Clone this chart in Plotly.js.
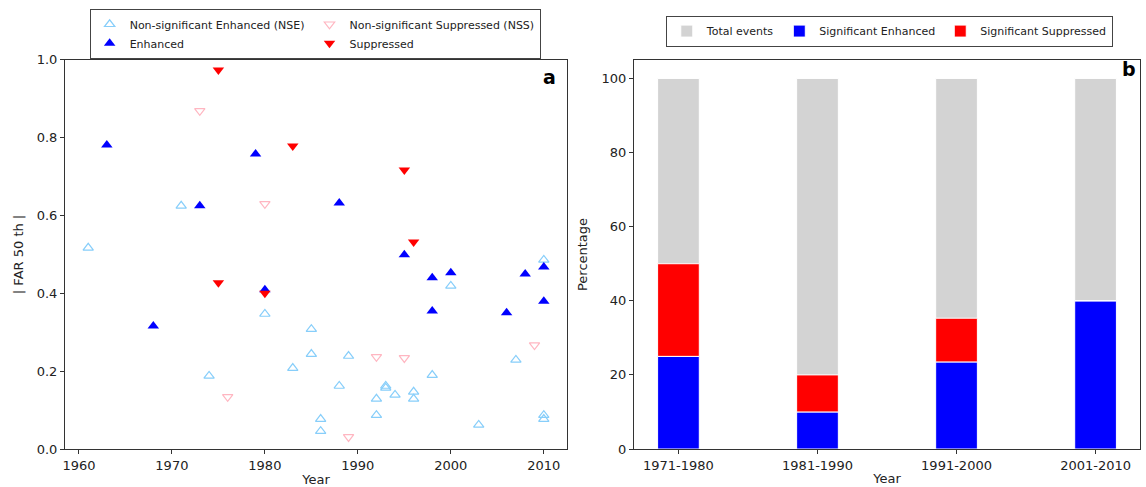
<!DOCTYPE html>
<html><head><meta charset="utf-8">
<script src="https://cdn.plot.ly/plotly-3.0.1.min.js"></script>
<style>html,body{margin:0;padding:0;background:#fff}#c{width:1146px;height:487px}</style>
</head><body><div id="c"></div>
<script>
// Panel a data
const nseYear = [1961,1971,1974,1980,1983,1985,1985,1986,1986,1988,1989,1992,1992,1993,1993,1994,1996,1996,1998,2000,2003,2007,2010,2010,2010];
const nseFar  = [0.517,0.625,0.188,0.347,0.208,0.308,0.244,0.077,0.046,0.162,0.239,0.129,0.087,0.162,0.157,0.139,0.147,0.129,0.19,0.419,0.062,0.229,0.486,0.087,0.077];
const nssYear = [1973,1976,1980,1989,1992,1995,2009];
const nssFar  = [0.869,0.134,0.63,0.031,0.237,0.234,0.267];
const enhYear = [1963,1968,1973,1979,1980,1988,1995,1998,1998,2000,2006,2008,2010,2010];
const enhFar  = [0.781,0.316,0.625,0.758,0.409,0.632,0.499,0.44,0.355,0.453,0.35,0.45,0.468,0.38];
const supYear = [1975,1975,1980,1983,1995,1996];
const supFar  = [0.974,0.427,0.40,0.779,0.717,0.532];
// Panel b data
const decades = ['1971-1980','1981-1990','1991-2000','2001-2010'];
const totalPct = [100,100,100,100];
const enhancedPct = [25,10,23.5,40];
const suppressedPct = [25,10,11.8,0];

const font = {family:'DejaVu Sans', size:13, color:'#222'};
const legFont = {family:'DejaVu Sans', size:11, color:'#222'};
const traces = [
 {x:nseYear,y:nseFar,type:'scatter',mode:'markers',name:'Non-significant Enhanced (NSE)',legend:'legend',legendgroup:'g1',
  marker:{symbol:'triangle-up-open',size:9,color:'#87CEFA',line:{width:1.2,color:'#87CEFA'}},xaxis:'x',yaxis:'y'},
 {x:enhYear,y:enhFar,type:'scatter',mode:'markers',name:'Enhanced',legend:'legend',legendgroup:'g1',
  marker:{symbol:'triangle-up',size:10,color:'blue'},xaxis:'x',yaxis:'y'},
 {x:nssYear,y:nssFar,type:'scatter',mode:'markers',name:'Non-significant Suppressed (NSS)',legend:'legend',legendgroup:'g2',
  marker:{symbol:'triangle-down-open',size:9,color:'#FFB6C1',line:{width:1.2,color:'#FFB6C1'}},xaxis:'x',yaxis:'y'},
 {x:supYear,y:supFar,type:'scatter',mode:'markers',name:'Suppressed',legend:'legend',legendgroup:'g2',
  marker:{symbol:'triangle-down',size:10,color:'red'},xaxis:'x',yaxis:'y'},
 {x:decades,y:totalPct,type:'bar',name:'Total events',legend:'legend2',width:0.3,
  marker:{color:'lightgray',line:{color:'white',width:1}},xaxis:'x2',yaxis:'y2'},
 {x:decades,y:enhancedPct,type:'bar',name:'Significant Enhanced',legend:'legend2',width:0.3,
  marker:{color:'blue',line:{color:'white',width:1}},xaxis:'x2',yaxis:'y2'},
 {x:decades,y:suppressedPct,base:enhancedPct,type:'bar',name:'Significant Suppressed',legend:'legend2',width:0.3,
  marker:{color:'red',line:{color:'white',width:1}},xaxis:'x2',yaxis:'y2'}
];
const axBase = {showline:true,mirror:true,linecolor:'#333',linewidth:1,ticks:'outside',ticklen:4,tickcolor:'#333',
  showgrid:false,zeroline:false,tickfont:font};
const yd = [0.078,0.877];
const layout = {
  width:1146,height:487,margin:{l:0,r:0,t:0,b:0},paper_bgcolor:'white',plot_bgcolor:'white',
  font:font, barmode:'overlay', showlegend:true,
  xaxis:Object.assign({},axBase,{domain:[0.0567,0.4948],range:[1958.5,2012.5],tickvals:[1960,1970,1980,1990,2000,2010],
    title:{text:'Year',font:font,standoff:10},anchor:'y'}),
  yaxis:Object.assign({},axBase,{domain:yd,range:[0,1],tickvals:[0,0.2,0.4,0.6,0.8,1.0],tickformat:'.1f',
    title:{text:'| FAR 50 th |',font:font,standoff:10},anchor:'x'}),
  xaxis2:Object.assign({},axBase,{domain:[0.5532,0.9948],range:[-0.32,3.32],type:'category',
    title:{text:'Year',font:font,standoff:2},anchor:'y2'}),
  yaxis2:Object.assign({},axBase,{domain:yd,range:[0,105],tickvals:[0,20,40,60,80,100],
    title:{text:'Percentage',font:font,standoff:10},anchor:'x2'}),
  legend:{orientation:'h',traceorder:'grouped',x:0.275,xanchor:'center',y:0.982,yanchor:'top',
    bordercolor:'#444',borderwidth:1,bgcolor:'white',font:legFont,tracegroupgap:0,itemwidth:30},
  legend2:{orientation:'h',x:0.776,xanchor:'center',y:0.968,yanchor:'top',
    bordercolor:'#444',borderwidth:1,bgcolor:'white',font:legFont,itemwidth:30},
  annotations:[
    {text:'<b>a</b>',xref:'paper',yref:'paper',x:0.487,y:0.868,xanchor:'right',yanchor:'top',showarrow:false,
     font:{family:'DejaVu Sans',size:19,color:'#000'}},
    {text:'<b>b</b>',xref:'paper',yref:'paper',x:0.993,y:0.885,xanchor:'right',yanchor:'top',showarrow:false,
     font:{family:'DejaVu Sans',size:19,color:'#000'}}
  ]
};
Plotly.newPlot('c',traces,layout,{displayModeBar:false,staticPlot:true});
</script></body></html>
